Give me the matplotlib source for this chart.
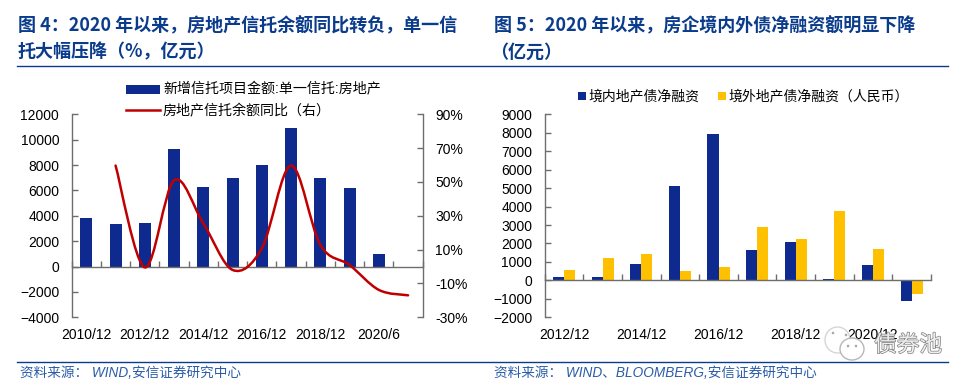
import matplotlib
matplotlib.use("Agg")
import matplotlib.pyplot as plt
import matplotlib.patheffects as pe
from matplotlib.patches import Ellipse, PathPatch
from matplotlib.path import Path
import numpy as np

plt.rcParams['font.family'] = ['Liberation Sans', 'Noto Sans CJK SC']

# left chart
left_labels = ['2010/12', '', '2012/12', '', '2014/12', '', '2016/12', '', '2018/12', '', '2020/6', '']
trust_amount = [3800, 3350, 3450, 9300, 6300, 6950, 8000, 10900, 6950, 6200, 1000, np.nan]
trust_yoy = [np.nan, 59.7, -0.5, 51, 25.5, -2, 10.8, 59.7, 12.8, 0.9, -13.8, -17]

# right chart
right_labels = ['2012/12', '', '2014/12', '', '2016/12', '', '2018/12', '', '2020/12', '']
onshore = [170, 210, 900, 5100, 7950, 1650, 2080, 100, 830, -1100]
offshore = [570, 1230, 1450, 500, 700, 2880, 2230, 3780, 1700, -720]

W, H = 974, 388
NAVY = '#0F2A8E'
GOLD = '#FFC000'
RED = '#C00000'
TITLE = '#0B3C8C'
AXIS = '#6E6E6E'


def rect(x0, y0, x1, y1):
    # pixel box, y measured from the top
    return [x0 / W, 1 - y1 / H, (x1 - x0) / W, (y1 - y0) / H]


def style_axis(ax):
    for s in ['top', 'right']:
        ax.spines[s].set_visible(False)
    for s in ['left', 'bottom', 'right']:
        ax.spines[s].set_color(AXIS)
        ax.spines[s].set_linewidth(1.0)
    ax.spines['bottom'].set_position(('data', 0))
    ax.tick_params(axis='y', direction='in', length=4, color=AXIS, width=1, labelsize=10, pad=9)
    ax.patch.set_alpha(0)


def cat_ticks(ax, n):
    ax.set_xlim(-0.5, n - 0.5)
    ax.set_xticks(np.arange(n + 1) - 0.5)
    ax.set_xticklabels([])
    ax.tick_params(axis='x', direction='in', length=4, color=AXIS, width=1, top=False)


def smooth_path(xs, ys):
    # same bezier smoothing as an office "smoothed line"
    verts = [(xs[0], ys[0])]
    codes = [Path.MOVETO]
    n = len(xs)
    for i in range(n - 1):
        a = max(i - 1, 0)
        b = min(i + 2, n - 1)
        verts.append((xs[i] + (xs[i + 1] - xs[a]) / 6, ys[i] + (ys[i + 1] - ys[a]) / 6))
        verts.append((xs[i + 1] - (xs[b] - xs[i]) / 6, ys[i + 1] - (ys[b] - ys[i]) / 6))
        verts.append((xs[i + 1], ys[i + 1]))
        codes += [Path.CURVE4] * 3
    return Path(verts, codes)


fig = plt.figure(figsize=(W / 100, H / 100), dpi=100, facecolor='white')

# left panel
ax = fig.add_axes(rect(71.7, 114.3, 422.7, 317.3))
x = np.arange(len(trust_amount))
ax.bar(x, trust_amount, width=0.41, color=NAVY, linewidth=0)
ax.set_ylim(-4000, 12000)
ax.set_yticks(range(-4000, 12001, 2000))
style_axis(ax)
cat_ticks(ax, len(trust_amount))
for i, lab in enumerate(left_labels):
    if lab:
        ax.annotate(lab, (i, -4000), xytext=(0, -8), textcoords='offset points',
                    ha='center', va='top', fontsize=10)

ax2 = ax.twinx()
ax2.set_ylim(-30, 90)
ax2.set_yticks(range(-30, 91, 20))
ax2.set_yticklabels([f'{v}%' for v in range(-30, 91, 20)])
ax2.patch.set_alpha(0)
for s in ['top', 'left', 'bottom']:
    ax2.spines[s].set_visible(False)
ax2.spines['right'].set_color(AXIS)
ax2.spines['right'].set_linewidth(1.0)
ax2.tick_params(axis='y', direction='in', length=4, color=AXIS, width=1, labelsize=10, pad=9)
ok = ~np.isnan(trust_yoy)
ax2.add_patch(PathPatch(smooth_path(x[ok], np.array(trust_yoy)[ok]), fill=False,
                        edgecolor=RED, linewidth=1.8, capstyle='round'))

# right panel
ax3 = fig.add_axes(rect(544.7, 114.3, 931, 317.3))
x = np.arange(len(onshore))
ax3.bar(x - 0.143, onshore, width=0.286, color=NAVY, linewidth=0)
ax3.bar(x + 0.143, offshore, width=0.286, color=GOLD, linewidth=0)
ax3.set_ylim(-2000, 9000)
ax3.set_yticks(range(-2000, 9001, 1000))
style_axis(ax3)
cat_ticks(ax3, len(onshore))
for i, lab in enumerate(right_labels):
    if lab:
        ax3.annotate(lab, (i, -2000), xytext=(0, -8), textcoords='offset points',
                     ha='center', va='top', fontsize=10)

# overlay in pixel coordinates
ov = fig.add_axes([0, 0, 1, 1], zorder=10)
ov.set_xlim(0, W)
ov.set_ylim(H, 0)
ov.axis('off')

title_font = ['Noto Sans CJK SC']
ov.text(18, 26, '图 4：2020 年以来，房地产信托余额同比转负，单一信', fontsize=13, fontweight='bold',
        color=TITLE, family=title_font, va='center')
ov.text(18, 52, '托大幅压降（%，亿元）', fontsize=13, fontweight='bold',
        color=TITLE, family=title_font, va='center')
ov.text(494, 26, '图 5：2020 年以来，房企境内外债净融资额明显下降', fontsize=13, fontweight='bold',
        color=TITLE, family=title_font, va='center')
ov.text(490, 52, '（亿元）', fontsize=13, fontweight='bold',
        color=TITLE, family=title_font, va='center')

ov.plot([17, 948], [66.3, 66.3], color=TITLE, lw=1)
ov.plot([17, 948], [362.3, 362.3], color=TITLE, lw=1)

# legends
ov.add_patch(plt.Rectangle((126, 85), 34, 9, color=NAVY, lw=0))
ov.text(163, 89.5, '新增信托项目金额:单一信托:房地产', fontsize=10.1, va='center')
ov.plot([126, 160], [110, 110], color=RED, lw=1.8)
ov.text(163, 111, '房地产信托余额同比（右）', fontsize=10.1, va='center')
ov.add_patch(plt.Rectangle((578, 92.3), 8.3, 7.7, color=NAVY, lw=0))
ov.text(588.5, 96.7, '境内地产债净融资', fontsize=10, va='center')
ov.add_patch(plt.Rectangle((718, 92.3), 8.3, 7.7, color=GOLD, lw=0))
ov.text(728.5, 96.7, '境外地产债净融资（人民币）', fontsize=10, va='center')

# source lines
ov.text(20, 373, '资料来源： WIND,安信证券研究中心', fontsize=9.8, style='italic', color='#2A5CA8', va='center')
ov.text(494, 373, '资料来源： WIND、BLOOMBERG,安信证券研究中心', fontsize=9.8, style='italic', color='#2A5CA8', va='center')

# watermark
ov.add_patch(Ellipse((837.5, 340), 25, 26, fc='white', ec='#C8C8C8', lw=1, alpha=0.75))
ov.add_patch(Ellipse((852, 349), 24, 22, fc='white', ec='#B0B0B0', lw=1, alpha=0.9))
for px, py in [(833, 333), (846, 335), (848, 346), (856, 346)]:
    ov.add_patch(Ellipse((px, py), 2.6, 2.6, fc='#A8A8A8', lw=0))
ov.text(908, 345, '债券池', fontsize=16.3, color='#EFEFEF', ha='center', va='center',
        family=['Noto Sans CJK SC'],
        path_effects=[pe.withStroke(linewidth=1.0, foreground='#808080')])

fig.savefig('out.png', dpi=100)
